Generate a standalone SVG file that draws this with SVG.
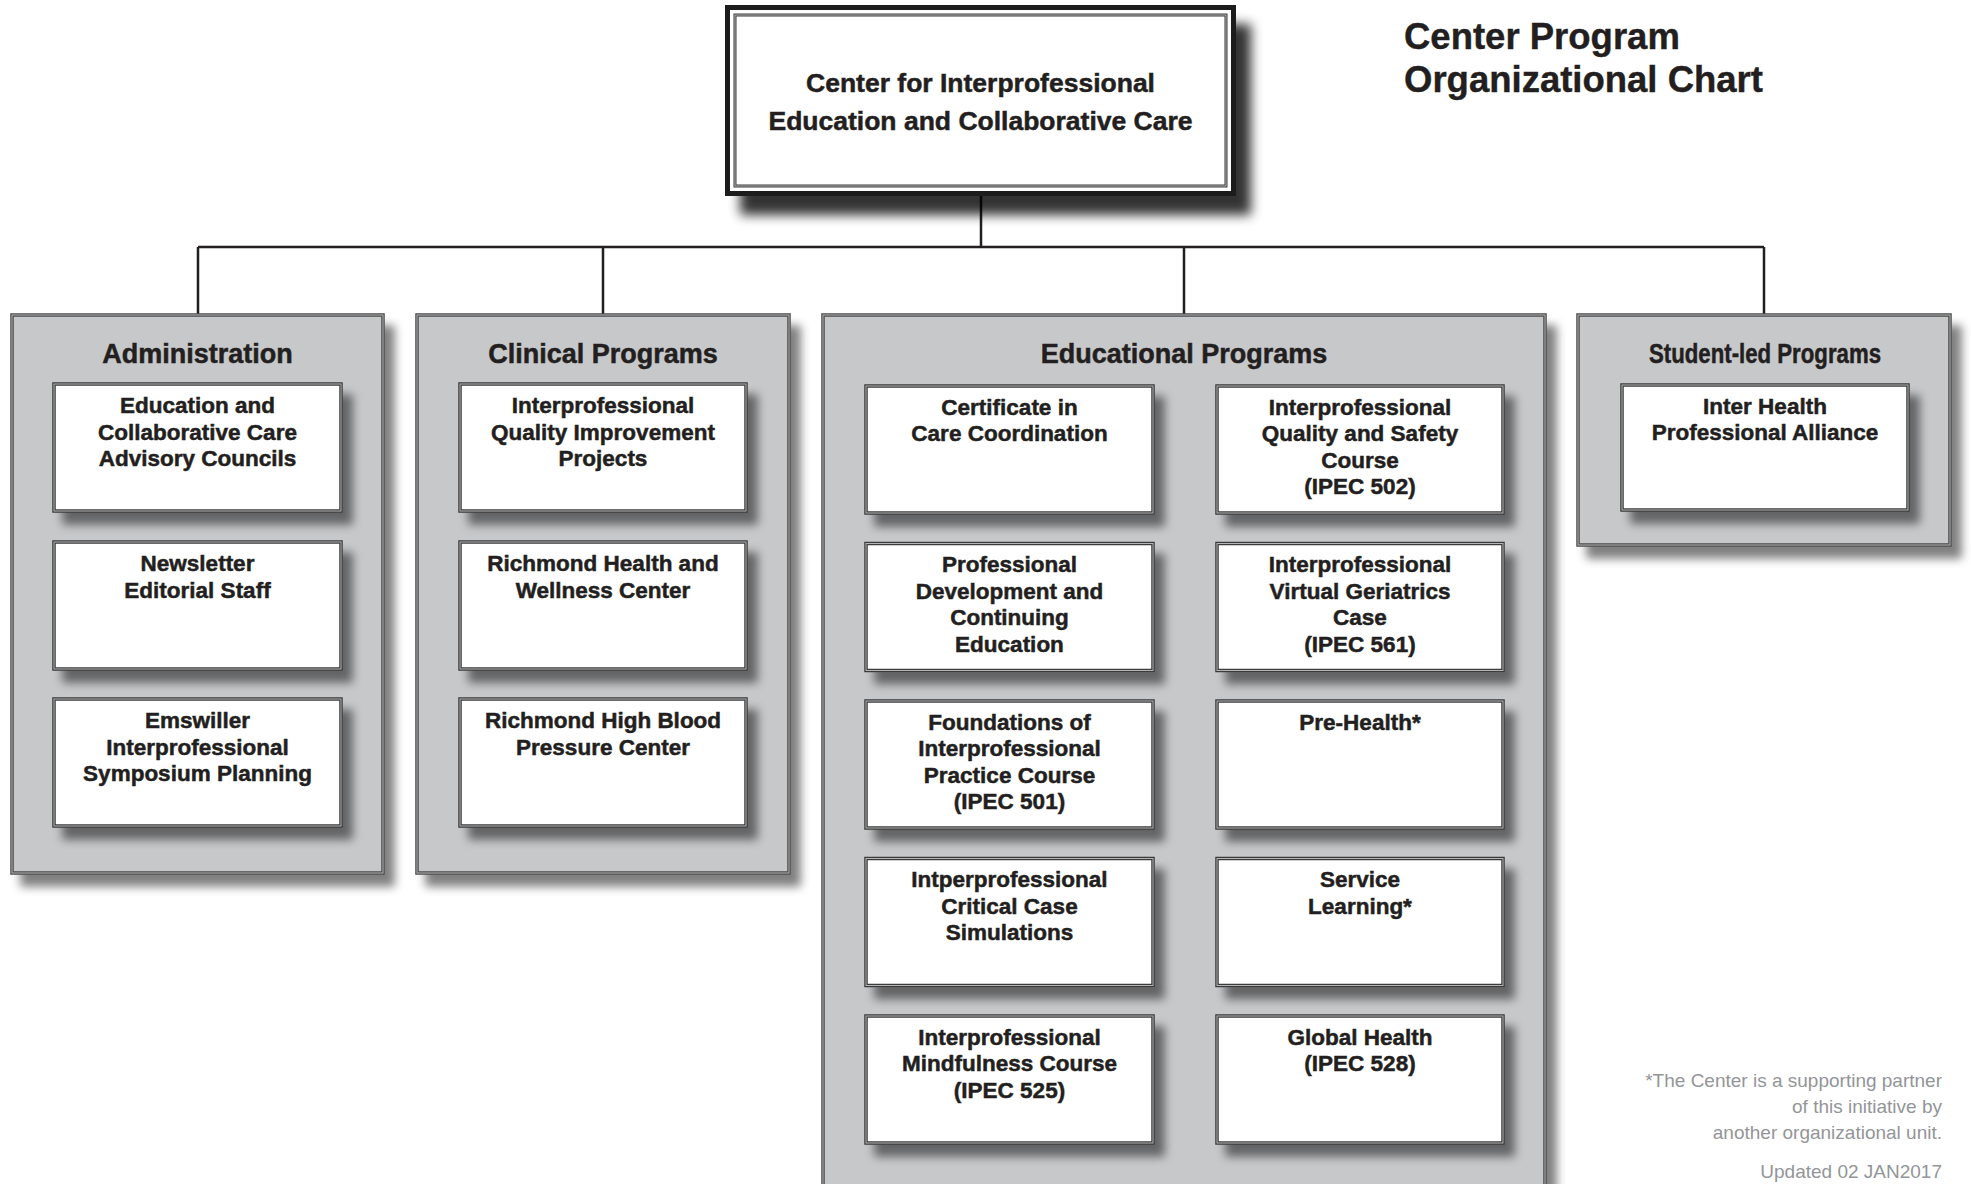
<svg xmlns="http://www.w3.org/2000/svg" width="1971" height="1184" viewBox="0 0 1971 1184">
<defs>
<filter id="sh" x="-10%" y="-10%" width="130%" height="130%">
<feGaussianBlur in="SourceAlpha" stdDeviation="5"/>
<feOffset dx="10" dy="12"/>
<feComponentTransfer><feFuncA type="linear" slope="0.5"/></feComponentTransfer>
<feMerge><feMergeNode/><feMergeNode in="SourceGraphic"/></feMerge>
</filter>
<filter id="shBig" x="-10%" y="-10%" width="130%" height="140%">
<feGaussianBlur in="SourceAlpha" stdDeviation="6"/>
<feOffset dx="15" dy="19"/>
<feComponentTransfer><feFuncA type="linear" slope="0.8"/></feComponentTransfer>
<feMerge><feMergeNode/><feMergeNode in="SourceGraphic"/></feMerge>
</filter>
<style>
.panel{fill:#c7c8ca;stroke:#4a4a4a;stroke-width:3.5}
.box{fill:#ffffff;stroke:#3b3b3b;stroke-width:3.5}
.hl{fill:none;stroke:#b5b5b5;stroke-width:1}
.t{font-family:"Liberation Sans",Arial,sans-serif;font-weight:bold;fill:#231f20;stroke:#231f20;stroke-width:0.5;text-anchor:middle;font-size:22.5px}
.h{font-family:"Liberation Sans",Arial,sans-serif;font-weight:bold;fill:#231f20;stroke:#231f20;stroke-width:0.5;text-anchor:middle;font-size:27px}
.ttl{font-family:"Liberation Sans",Arial,sans-serif;font-weight:bold;fill:#231f20;stroke:#231f20;stroke-width:0.4;font-size:36.5px}
.top{font-family:"Liberation Sans",Arial,sans-serif;font-weight:bold;fill:#231f20;stroke:#231f20;stroke-width:0.5;text-anchor:middle;font-size:26.5px}
.note{font-family:"Liberation Sans",Arial,sans-serif;fill:#939598;text-anchor:end;font-size:19px}
.ln{stroke:#231f20;stroke-width:2.5;fill:none}
</style>
</defs>
<rect width="1971" height="1184" fill="#ffffff"/>

<g id="connectors">
<path class="ln" d="M981,195 V247 M198,247 H1764 M198,247 V315 M603,247 V315 M1184,247 V315 M1764,247 V315"/>
</g>

<g id="title">
<text class="ttl" x="1404" y="49">Center Program</text>
<text class="ttl" x="1404" y="92">Organizational Chart</text>
</g>

<g id="center">
<rect x="727.5" y="7.5" width="506" height="186" fill="#ffffff" stroke="#1a1a1a" stroke-width="5" filter="url(#shBig)"/>
<rect x="735" y="15" width="491" height="171" fill="none" stroke="#3b3b3b" stroke-width="3"/>
<rect x="735" y="15" width="491" height="171" class="hl"/>
<text class="top"><tspan x="980.5" y="92">Center for Interprofessional</tspan><tspan x="980.5" y="130">Education and Collaborative Care</tspan></text>
</g>

<!-- Administration -->
<g id="administration">
<rect class="panel" x="12" y="315" width="371" height="558" filter="url(#sh)"/>
<rect class="hl" x="12" y="315" width="371" height="558"/>
<text class="h" x="197.5" y="363">Administration</text>
</g>
<g id="adm-councils">
<rect class="box" x="54" y="384" width="287" height="127" filter="url(#sh)"/><rect class="hl" x="54" y="384" width="287" height="127"/>
<text class="t"><tspan x="197.5" y="413">Education and</tspan><tspan x="197.5" y="439.5">Collaborative Care</tspan><tspan x="197.5" y="466">Advisory Councils</tspan></text>
</g>
<g id="adm-newsletter">
<rect class="box" x="54" y="542" width="287" height="127" filter="url(#sh)"/><rect class="hl" x="54" y="542" width="287" height="127"/>
<text class="t"><tspan x="197.5" y="571">Newsletter</tspan><tspan x="197.5" y="597.5">Editorial Staff</tspan></text>
</g>
<g id="adm-emswiller">
<rect class="box" x="54" y="699" width="287" height="127" filter="url(#sh)"/><rect class="hl" x="54" y="699" width="287" height="127"/>
<text class="t"><tspan x="197.5" y="728">Emswiller</tspan><tspan x="197.5" y="754.5">Interprofessional</tspan><tspan x="197.5" y="781">Symposium Planning</tspan></text>
</g>

<!-- Clinical -->
<g id="clinical">
<rect class="panel" x="417" y="315" width="372" height="558" filter="url(#sh)"/>
<rect class="hl" x="417" y="315" width="372" height="558"/>
<text class="h" x="603" y="363">Clinical Programs</text>
</g>
<g id="cli-quality">
<rect class="box" x="460" y="384" width="286" height="127" filter="url(#sh)"/><rect class="hl" x="460" y="384" width="286" height="127"/>
<text class="t"><tspan x="603" y="413">Interprofessional</tspan><tspan x="603" y="439.5">Quality Improvement</tspan><tspan x="603" y="466">Projects</tspan></text>
</g>
<g id="cli-wellness">
<rect class="box" x="460" y="542" width="286" height="127" filter="url(#sh)"/><rect class="hl" x="460" y="542" width="286" height="127"/>
<text class="t"><tspan x="603" y="571">Richmond Health and</tspan><tspan x="603" y="597.5">Wellness Center</tspan></text>
</g>
<g id="cli-bp">
<rect class="box" x="460" y="699" width="286" height="127" filter="url(#sh)"/><rect class="hl" x="460" y="699" width="286" height="127"/>
<text class="t"><tspan x="603" y="728">Richmond High Blood</tspan><tspan x="603" y="754.5">Pressure Center</tspan></text>
</g>

<!-- Educational -->
<g id="educational">
<rect class="panel" x="823" y="315" width="722" height="900" filter="url(#sh)"/>
<rect class="hl" x="823" y="315" width="722" height="900"/>
<text class="h" x="1184" y="363">Educational Programs</text>
</g>
<g id="edu-certificate">
<rect class="box" x="866" y="386" width="287" height="127" filter="url(#sh)"/><rect class="hl" x="866" y="386" width="287" height="127"/>
<text class="t"><tspan x="1009.5" y="414.5">Certificate in</tspan><tspan x="1009.5" y="441">Care Coordination</tspan></text>
</g>
<g id="edu-profdev">
<rect class="box" x="866" y="543.5" width="287" height="127" filter="url(#sh)"/><rect class="hl" x="866" y="543.5" width="287" height="127"/>
<text class="t"><tspan x="1009.5" y="572">Professional</tspan><tspan x="1009.5" y="598.5">Development and</tspan><tspan x="1009.5" y="625">Continuing</tspan><tspan x="1009.5" y="651.5">Education</tspan></text>
</g>
<g id="edu-ipec501">
<rect class="box" x="866" y="701" width="287" height="127" filter="url(#sh)"/><rect class="hl" x="866" y="701" width="287" height="127"/>
<text class="t"><tspan x="1009.5" y="729.5">Foundations of</tspan><tspan x="1009.5" y="756">Interprofessional</tspan><tspan x="1009.5" y="782.5">Practice Course</tspan><tspan x="1009.5" y="809">(IPEC 501)</tspan></text>
</g>
<g id="edu-critical">
<rect class="box" x="866" y="858.5" width="287" height="127" filter="url(#sh)"/><rect class="hl" x="866" y="858.5" width="287" height="127"/>
<text class="t"><tspan x="1009.5" y="887">Intperprofessional</tspan><tspan x="1009.5" y="913.5">Critical Case</tspan><tspan x="1009.5" y="940">Simulations</tspan></text>
</g>
<g id="edu-ipec525">
<rect class="box" x="866" y="1016" width="287" height="127" filter="url(#sh)"/><rect class="hl" x="866" y="1016" width="287" height="127"/>
<text class="t"><tspan x="1009.5" y="1044.5">Interprofessional</tspan><tspan x="1009.5" y="1071">Mindfulness Course</tspan><tspan x="1009.5" y="1097.5">(IPEC 525)</tspan></text>
</g>
<g id="edu-ipec502">
<rect class="box" x="1217" y="386" width="286" height="127" filter="url(#sh)"/><rect class="hl" x="1217" y="386" width="286" height="127"/>
<text class="t"><tspan x="1360" y="414.5">Interprofessional</tspan><tspan x="1360" y="441">Quality and Safety</tspan><tspan x="1360" y="467.5">Course</tspan><tspan x="1360" y="494">(IPEC 502)</tspan></text>
</g>
<g id="edu-ipec561">
<rect class="box" x="1217" y="543.5" width="286" height="127" filter="url(#sh)"/><rect class="hl" x="1217" y="543.5" width="286" height="127"/>
<text class="t"><tspan x="1360" y="572">Interprofessional</tspan><tspan x="1360" y="598.5">Virtual Geriatrics</tspan><tspan x="1360" y="625">Case</tspan><tspan x="1360" y="651.5">(IPEC 561)</tspan></text>
</g>
<g id="edu-prehealth">
<rect class="box" x="1217" y="701" width="286" height="127" filter="url(#sh)"/><rect class="hl" x="1217" y="701" width="286" height="127"/>
<text class="t"><tspan x="1360" y="729.5">Pre-Health*</tspan></text>
</g>
<g id="edu-service">
<rect class="box" x="1217" y="858.5" width="286" height="127" filter="url(#sh)"/><rect class="hl" x="1217" y="858.5" width="286" height="127"/>
<text class="t"><tspan x="1360" y="887">Service</tspan><tspan x="1360" y="913.5">Learning*</tspan></text>
</g>
<g id="edu-ipec528">
<rect class="box" x="1217" y="1016" width="286" height="127" filter="url(#sh)"/><rect class="hl" x="1217" y="1016" width="286" height="127"/>
<text class="t"><tspan x="1360" y="1044.5">Global Health</tspan><tspan x="1360" y="1071">(IPEC 528)</tspan></text>
</g>

<!-- Student-led -->
<g id="student">
<rect class="panel" x="1578" y="315" width="372" height="230" filter="url(#sh)"/>
<rect class="hl" x="1578" y="315" width="372" height="230"/>
<text class="h" x="1765" y="363" textLength="232" lengthAdjust="spacingAndGlyphs">Student-led Programs</text>
</g>
<g id="stu-alliance">
<rect class="box" x="1622" y="385" width="286" height="125" filter="url(#sh)"/><rect class="hl" x="1622" y="385" width="286" height="125"/>
<text class="t"><tspan x="1765" y="413.5">Inter Health</tspan><tspan x="1765" y="440">Professional Alliance</tspan></text>
</g>

<g id="footnote">
<text class="note"><tspan x="1942" y="1087">*The Center is a supporting partner</tspan><tspan x="1942" y="1113">of this initiative by</tspan><tspan x="1942" y="1139">another organizational unit.</tspan><tspan x="1942" y="1178">Updated 02 JAN2017</tspan></text>
</g>
</svg>
